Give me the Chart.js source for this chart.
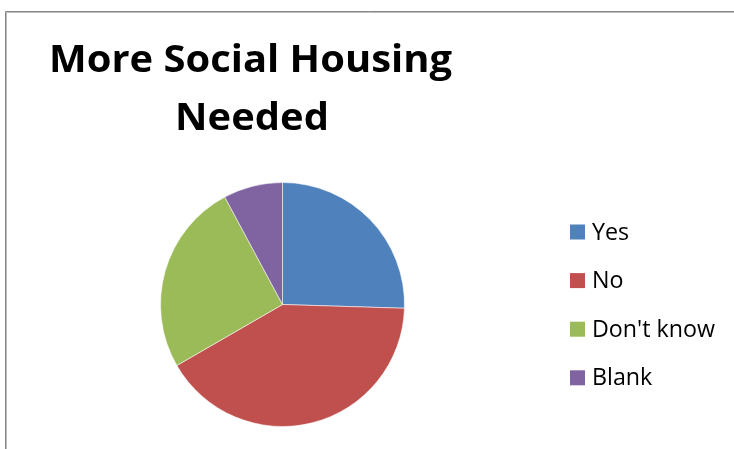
<!DOCTYPE html>
<html><head><meta charset="utf-8">
<script src="https://cdn.jsdelivr.net/npm/chart.js@4/dist/chart.umd.min.js"></script>
<style>html,body{margin:0;padding:0;background:#fff;}#wrap{width:734px;height:449px;position:relative}canvas{display:block}</style>
</head><body><div id="wrap"><canvas id="c" width="734" height="449"></canvas></div>
<script>
const titleLines = ["More Social Housing", "Needed"];
const categories = ["Yes", "No", "Don't know", "Blank"];
const values = [13, 21, 13, 4];
const colors = ["#4F81BD", "#C0504D", "#9BBB59", "#8064A2"];

const decor = {
  id: 'decor',
  beforeDraw(chart) {
    const ctx = chart.ctx;
    ctx.save();
    ctx.fillStyle = '#fff';
    ctx.fillRect(0, 0, chart.width, chart.height);
    ctx.lineWidth = 1;
    ctx.strokeStyle = '#868686';
    ctx.beginPath();
    ctx.moveTo(5.5, chart.height); ctx.lineTo(5.5, 11.5); ctx.lineTo(chart.width, 11.5);
    ctx.stroke();
    ctx.strokeStyle = '#bdbdbd';
    ctx.beginPath();
    ctx.moveTo(6.5, chart.height); ctx.lineTo(6.5, 12.5); ctx.lineTo(chart.width, 12.5);
    ctx.stroke();
    ctx.restore();
  },
  afterDraw(chart) {
    const ctx = chart.ctx;
    ctx.save();
    // title
    ctx.fillStyle = '#000';
    ctx.font = 'bold 38px "Open Sans"';
    ctx.textBaseline = 'alphabetic';
    ctx.textAlign = 'center';
    const w1 = ctx.measureText(titleLines[0]).width;
    const sx = 403 / w1;
    const tpos = [[250.5, 72], [252, 129.5]];
    titleLines.forEach((t, i) => {
      ctx.save();
      ctx.translate(tpos[i][0], tpos[i][1]);
      ctx.scale(sx, 1);
      ctx.fillText(t, 0, 0);
      ctx.restore();
    });
    // legend
    ctx.font = '23px "Open Sans"';
    ctx.textAlign = 'left';
    const wd = ctx.measureText(categories[2]).width;
    const lx = 123 / wd;
    categories.forEach((c, i) => {
      const base = 239.5 + i * 48.6;
      ctx.fillStyle = colors[i];
      ctx.fillRect(570, base - 15, 15, 15);
      ctx.fillStyle = '#000';
      ctx.save();
      ctx.translate(592, base);
      ctx.scale(lx, 1);
      ctx.fillText(c, 0, 0);
      ctx.restore();
    });
    ctx.restore();
  }
};

new Chart(document.getElementById('c'), {
  type: 'pie',
  data: {
    labels: categories,
    datasets: [{
      data: values,
      backgroundColor: colors,
      borderColor: 'rgba(255,255,255,0.55)',
      borderWidth: 1
    }]
  },
  options: {
    responsive: false,
    animation: false,
    layout: { padding: { left: 160, right: 329, top: 182, bottom: 22 } },
    plugins: {
      legend: { display: false },
      title: { display: false },
      tooltip: { enabled: false }
    }
  },
  plugins: [decor]
});
</script>
</body></html>
